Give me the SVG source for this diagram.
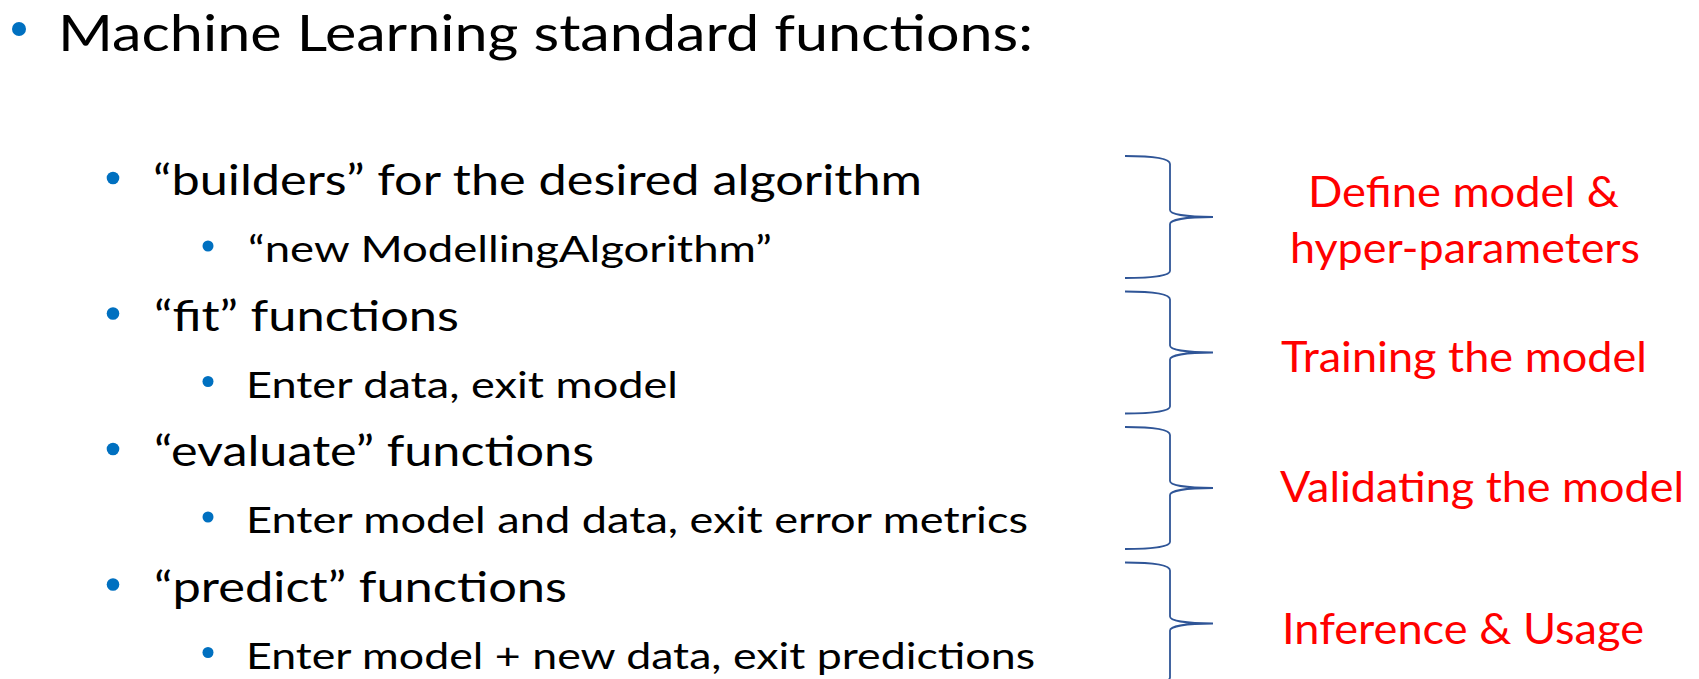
<svg xmlns="http://www.w3.org/2000/svg" width="1699" height="679" viewBox="0 0 1699 679">
<style>
  text { font-family: Lato, "Open Sans", "Liberation Sans", sans-serif; }
  .title { font-size: 51px; fill: #000000; }
  .l1 { font-size: 43px; fill: #000000; }
  .l2 { font-size: 36px; fill: #000000; }
  .red { font-size: 43px; fill: #FF0000; }
  .dot { fill: #0070C0; }
  .brace { fill: none; stroke: #2F5597; stroke-width: 1.8; }
</style>
<rect width="1699" height="679" fill="#FFFFFF"/>

<g id="title">
  <circle class="dot" cx="19" cy="29" r="7"/>
  <text class="title" x="58" y="51" textLength="975" lengthAdjust="spacingAndGlyphs">Machine Learning standard functions:</text>
</g>

<g id="builders">
  <circle class="dot" cx="113" cy="178" r="6.3"/>
  <text class="l1" x="153" y="195" textLength="769" lengthAdjust="spacingAndGlyphs">“builders” for the desired algorithm</text>
  <circle class="dot" cx="208" cy="246" r="5.5"/>
  <text class="l2" x="248" y="262" textLength="524" lengthAdjust="spacingAndGlyphs">“new ModellingAlgorithm”</text>
</g>

<g id="fit">
  <circle class="dot" cx="113" cy="313.5" r="6.3"/>
  <text class="l1" x="154" y="330.5" textLength="305" lengthAdjust="spacingAndGlyphs">“fit” functions</text>
  <circle class="dot" cx="208" cy="381.5" r="5.5"/>
  <text class="l2" x="246" y="397.5" textLength="432" lengthAdjust="spacingAndGlyphs">Enter data, exit model</text>
</g>

<g id="evaluate">
  <circle class="dot" cx="113" cy="449" r="6.3"/>
  <text class="l1" x="154" y="466" textLength="440" lengthAdjust="spacingAndGlyphs">“evaluate” functions</text>
  <circle class="dot" cx="208" cy="517" r="5.5"/>
  <text class="l2" x="246" y="533" textLength="782" lengthAdjust="spacingAndGlyphs">Enter model and data, exit error metrics</text>
</g>

<g id="predict">
  <circle class="dot" cx="113" cy="584.5" r="6.3"/>
  <text class="l1" x="154" y="601.5" textLength="413" lengthAdjust="spacingAndGlyphs">“predict” functions</text>
  <circle class="dot" cx="208" cy="652.5" r="5.5"/>
  <text class="l2" x="246" y="668.5" textLength="789" lengthAdjust="spacingAndGlyphs">Enter model + new data, exit predictions</text>
</g>

<g id="label-define">
  <text class="red" x="1308" y="207" textLength="311" lengthAdjust="spacingAndGlyphs">Define model &amp;</text>
  <text class="red" x="1290" y="263" textLength="350" lengthAdjust="spacingAndGlyphs">hyper-parameters</text>
</g>
<g id="label-training">
  <text class="red" x="1281" y="372" textLength="366" lengthAdjust="spacingAndGlyphs">Training the model</text>
</g>
<g id="label-validating">
  <text class="red" x="1280" y="502" textLength="404" lengthAdjust="spacingAndGlyphs">Validating the model</text>
</g>
<g id="label-inference">
  <text class="red" x="1282" y="644" textLength="362" lengthAdjust="spacingAndGlyphs">Inference &amp; Usage</text>
</g>

<g id="connectors">
  <path id="brace-1" class="brace" d="M1125,156 C1150,156 1170,158 1170,164 L1170,210 C1170,214 1185,217 1213,217 C1185,217 1170,220 1170,224 L1170,271 C1170,276 1150,278 1125,278"/>
  <path id="brace-2" class="brace" d="M1125,291.5 C1150,291.5 1170,293.5 1170,299.5 L1170,345.5 C1170,349.5 1185,352.5 1213,352.5 C1185,352.5 1170,355.5 1170,359.5 L1170,406.5 C1170,411.5 1150,413.5 1125,413.5"/>
  <path id="brace-3" class="brace" d="M1125,427 C1150,427 1170,429 1170,435 L1170,481 C1170,485 1185,488 1213,488 C1185,488 1170,491 1170,495 L1170,542 C1170,547 1150,549 1125,549"/>
  <path id="brace-4" class="brace" d="M1125,562.5 C1150,562.5 1170,564.5 1170,570.5 L1170,616.5 C1170,620.5 1185,623.5 1213,623.5 C1185,623.5 1170,626.5 1170,630.5 L1170,677.5 C1170,682.5 1150,684.5 1125,684.5"/>
</g>
</svg>
